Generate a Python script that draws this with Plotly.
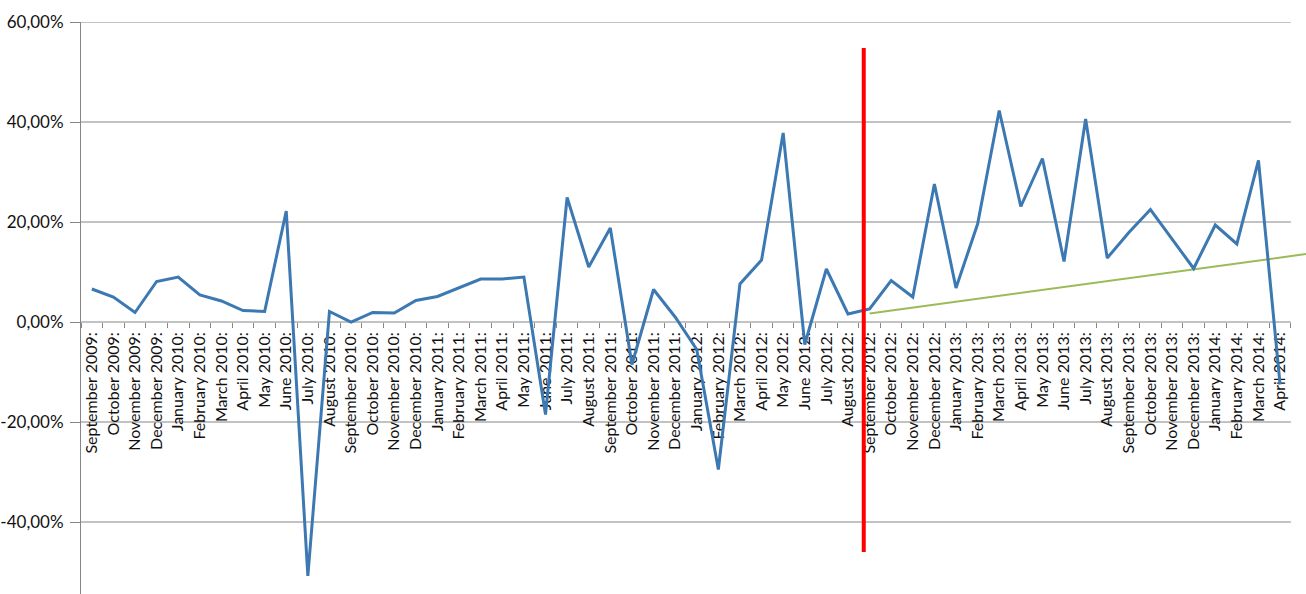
import plotly.graph_objects as go

months = [
    "September 2009:", "October 2009:", "November 2009:", "December 2009:",
    "January 2010:", "February 2010:", "March 2010:", "April 2010:", "May 2010:",
    "June 2010:", "July 2010:", "August 2010:", "September 2010:", "October 2010:",
    "November 2010:", "December 2010:", "January 2011:", "February 2011:",
    "March 2011:", "April 2011:", "May 2011:", "June 2011:", "July 2011:",
    "August 2011:", "September 2011:", "October 2011:", "November 2011:",
    "December 2011:", "January 2012:", "February 2012:", "March 2012:",
    "April 2012:", "May 2012:", "June 2012:", "July 2012:", "August 2012:",
    "September 2012:", "October 2012:", "November 2012:", "December 2012:",
    "January 2013:", "February 2013:", "March 2013:", "April 2013:", "May 2013:",
    "June 2013:", "July 2013:", "August 2013:", "September 2013:",
    "October 2013:", "November 2013:", "December 2013:", "January 2014:",
    "February 2014:", "March 2014:", "April 2014:",
]

growth_pct = [
    6.6, 5.0, 1.9, 8.1, 9.0, 5.4, 4.2, 2.3, 2.1, 22.2,
    -50.8, 2.1, 0.0, 1.9, 1.8, 4.3, 5.1, 6.8, 8.6, 8.6,
    9.0, -18.5, 24.9, 11.0, 18.8, -8.5, 6.5, 1.0, -5.5, -29.5,
    7.6, 12.4, 37.8, -4.5, 10.6, 1.6, 2.6, 8.3, 5.0, 27.6,
    6.8, 19.6, 42.3, 23.1, 32.7, 12.1, 40.6, 12.8, 17.9, 22.5,
    16.7, 10.7, 19.4, 15.6, 32.3, -12.5,
]

y_tick_vals = [-40, -20, 0, 20, 40, 60]
y_tick_text = ["-40,00%", "-20,00%", "0,00%", "20,00%", "40,00%", "60,00%"]

# trend line (start month, start value, value at right edge of chart)
trend_start_month = "September 2012:"
trend_values = [1.7, 13.6]

# red divider line (between August and September 2012)
divider_pos = 35.73
divider_values = [54.8, -46.0]

Y_MIN, Y_MAX = -54.4, 60
X_MAX = 56.2

n = len(months)
xs = list(range(n))
grey = "#868686"

fig = go.Figure()

fig.add_trace(go.Scatter(
    x=[months.index(trend_start_month), X_MAX], y=trend_values,
    mode="lines", line=dict(color="#9BBB59", width=2), showlegend=False,
))
fig.add_trace(go.Scatter(
    x=xs, y=growth_pct, mode="lines",
    line=dict(color="#3C78B2", width=3), showlegend=False,
))
fig.add_trace(go.Scatter(
    x=[divider_pos, divider_pos], y=divider_values, mode="lines",
    line=dict(color="#FF0000", width=4), showlegend=False,
))

shapes = []
for v in y_tick_vals:
    if v == 0:
        continue
    shapes.append(dict(type="line", xref="x", yref="y", x0=-0.5, x1=n - 0.5,
                       y0=v, y1=v, line=dict(color=grey, width=1), layer="below"))
shapes.append(dict(type="line", xref="x", yref="y", x0=-0.5, x1=n - 0.5,
                   y0=0, y1=0, line=dict(color=grey, width=1), layer="below"))

fig.update_layout(
    width=1306, height=594,
    margin=dict(l=79, r=0, t=22, b=0),
    paper_bgcolor="white", plot_bgcolor="white",
    font=dict(family="Lato, Open Sans, sans-serif", size=16, color="#111111"),
    shapes=shapes,
    xaxis=dict(
        range=[-0.5, X_MAX],
        tickmode="array", tickvals=xs, ticktext=months,
        tickangle=-90, ticks="", showgrid=False, zeroline=False, showline=False,
        anchor="free", position=(0 - Y_MIN) / (Y_MAX - Y_MIN),
        layer="below traces", ticklabelstandoff=6,
        tickfont=dict(size=16),
        minor=dict(tickmode="array", tickvals=[i - 0.5 for i in range(n + 1)],
                   ticks="outside", ticklen=5, tickcolor=grey, showgrid=False),
    ),
    yaxis=dict(
        range=[Y_MIN, Y_MAX],
        tickmode="array", tickvals=y_tick_vals, ticktext=y_tick_text,
        ticks="outside", ticklen=10, tickcolor=grey,
        showline=True, linecolor=grey, linewidth=1,
        showgrid=False, zeroline=False, layer="below traces",
        tickfont=dict(size=17), ticklabelstandoff=3,
    ),
)

fig.write_html("out.html")
